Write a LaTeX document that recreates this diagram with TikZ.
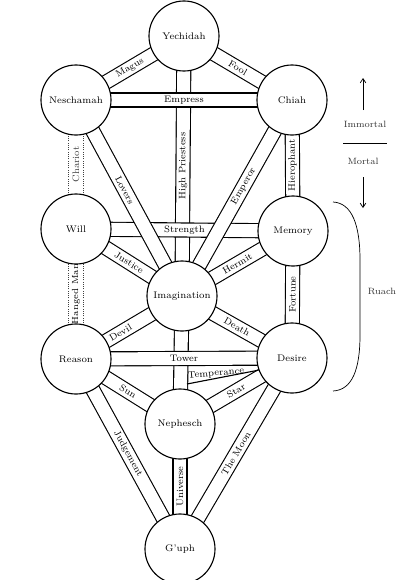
\documentclass[tikz,border=0pt]{standalone}
\usetikzlibrary{positioning, calc, arrows.meta, backgrounds}

\tikzset{
  sephira/.style={circle, draw, fill=white, line width=0.8pt, minimum size=1.75cm,
    inner sep=0pt, font=\fontsize{6.8}{8}\selectfont},
  channel/.style={double, double distance=9.2pt, line width=0.8pt},
  faint channel/.style={densely dotted, line width=0.6pt, black!75},
  card/.style={sloped, inner sep=0pt, font=\fontsize{6.7}{8}\selectfont},
  upcard/.style={rotate=90, inner sep=0pt, font=\fontsize{6.7}{8}\selectfont},
  aside/.style={inner sep=0pt, font=\fontsize{6.5}{8}\selectfont, black!80},
}

\begin{document}
\begin{tikzpicture}[x=0.025cm, y=-0.025cm, >={Straight Barb[length=3pt,width=4pt]}]
    \useasboundingbox (0,0) rectangle (400,580);
    \clip (0,0) rectangle (400,580);

    % the ten spheres
    \node[sephira] (yech)   at (184,36)  {Yechidah};
    \node[sephira] (nesch)  at (76,100)  {Neschamah};
    \node[sephira] (chiah)  at (292,100) {Chiah};
    \node[sephira] (will)   at (76,229)  {Will};
    \node[sephira] (memory) at (293,231) {Memory};
    \node[sephira] (imag)   at (182,296) {Imagination};
    \node[sephira] (reason) at (76,359)  {Reason};
    \node[sephira] (desire) at (292,358) {Desire};
    \node[sephira] (neph)   at (180,424) {Nephesch};
    \node[sephira] (guph)   at (180,549) {G'uph};

    \begin{pgfonlayer}{background}
    \draw[channel] (imag.center) -- (yech.center) node[upcard, pos=0.5] {High Priestess};
    \draw[channel] (imag.center) -- (neph.center);

    \draw[channel] (nesch.center) -- (chiah.center) node[card, pos=0.5] {Empress};
    \draw[channel] (will.center) -- (memory.center) node[card, pos=0.5] {Strength};
    \draw[channel] (reason.center) -- (desire.center) node[card, pos=0.5] {Tower};

    \draw[channel] (nesch.center) -- (imag.center) node[card, pos=0.46] {Lovers};
    \draw[channel] (chiah.center) -- (imag.center) node[card, pos=0.44] {Emperor};

    \draw[channel] (nesch.center) -- (yech.center) node[card, pos=0.5] {Magus};
    \draw[channel] (yech.center) -- (chiah.center) node[card, pos=0.5] {Fool};
    \draw[channel] (memory.center) -- (chiah.center) node[upcard, pos=0.5] {Hierophant};
    \draw[channel] (will.center) -- (imag.center) node[card, pos=0.5] {Justice};
    \draw[channel] (imag.center) -- (memory.center) node[card, pos=0.5] {Hermit};
    \draw[channel] (desire.center) -- (memory.center) node[upcard, pos=0.5] {Fortune};
    \draw[channel] (reason.center) -- (imag.center) node[card, pos=0.42] {Devil};
    \draw[channel] (imag.center) -- (desire.center) node[card, pos=0.5] {Death};
    \draw[channel] (reason.center) -- (neph.center) node[card, pos=0.5] {Sun};
    \draw[channel] (neph.center) -- (desire.center) node[card, pos=0.5] {Star};
    \draw[channel] (reason.center) -- (guph.center) node[card, pos=0.5] {Judgement};
    \draw[channel] (guph.center) -- (neph.center) node[upcard, pos=0.5] {Universe};
    \draw[channel] (guph.center) -- (desire.center) node[card, pos=0.5] {The Moon};

    % faded side channels
    \draw[faint channel] ([xshift=-0.18cm]will.center) -- ([xshift=-0.18cm]nesch.center);
    \draw[faint channel] ([xshift=0.18cm]will.center) -- ([xshift=0.18cm]nesch.center);
    \path (will) -- (nesch) node[upcard, pos=0.5, black!75] {Chariot};
    \draw[faint channel] ([xshift=-0.18cm]reason.center) -- ([xshift=-0.18cm]will.center);
    \draw[faint channel] ([xshift=0.18cm]reason.center) -- ([xshift=0.18cm]will.center);
    \path (reason) -- (will) node[upcard, pos=0.5, font=\fontsize{6.3}{8}\selectfont] {Hanged Man};

    \coordinate (tjoin) at (187,384);
    \draw[line width=0.8pt] (tjoin) -- (desire.200);
    \end{pgfonlayer}
    \node[card, rotate=5] (temper) at (216,373.5) {Temperance};

    % immortal / mortal
    \coordinate (upfoot) at (363,110);
    \coordinate (uptip) at (363,78);
    \draw[->, line width=0.5pt] (upfoot) -- (uptip);
    \node[aside] (immortal) at (365,124) {Immortal};
    \draw[line width=0.5pt] (343,143) -- (387,143);
    \node[aside] (mortal) at (363,161) {Mortal};
    \coordinate (dnfoot) at (363,177);
    \coordinate (dntip) at (363,208);
    \draw[->, line width=0.5pt] (dnfoot) -- (dntip);

    % ruach bracket
    \draw[line width=0.5pt] (333,202) .. controls (352,203) and (360,225) .. (360,260)
        -- (360,335) .. controls (360,370) and (352,390) .. (333,391);
    \node[aside] (ruach) at (382,291) {Ruach};
\end{tikzpicture}
\end{document}
